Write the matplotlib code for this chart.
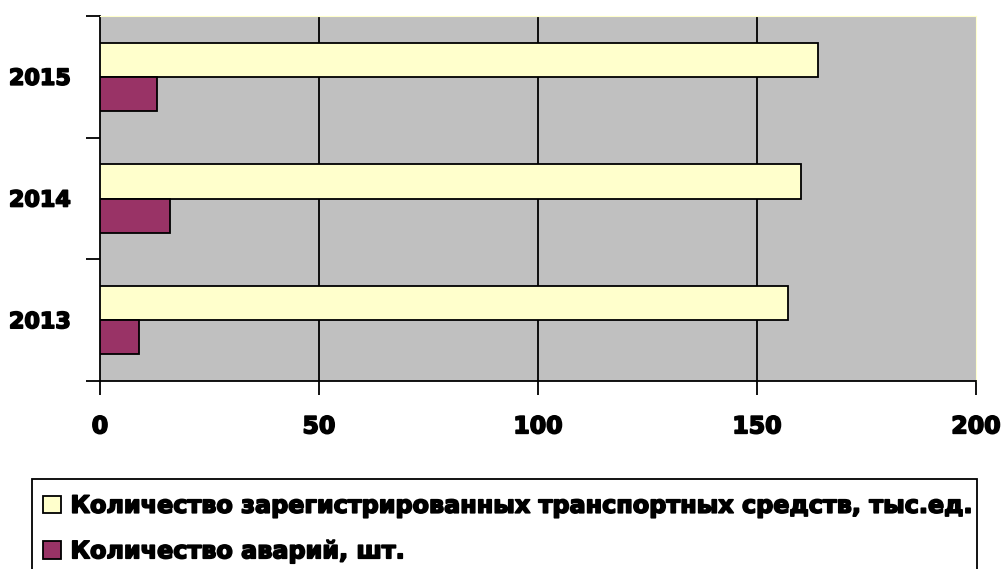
import matplotlib
matplotlib.use("Agg")
import matplotlib.pyplot as plt
import matplotlib.patheffects as pe
from matplotlib.patches import Rectangle
import numpy as np

# ---------------- DATA ----------------
years = ["2013", "2014", "2015"]
vehicles = [157, 160, 164]      # тыс.ед.
accidents = [9, 16, 13]         # шт.
xticks = [0, 50, 100, 150, 200]
label_vehicles = "Количество зарегистрированных транспортных средств, тыс.ед."
label_accidents = "Количество аварий, шт."
# --------------------------------------

W, H = 1002, 569
fig = plt.figure(figsize=(W / 100, H / 100), dpi=100)
ax = fig.add_axes([100 / W, 1 - 381 / H, 876 / W, 365 / H])
ax.set_facecolor("#C0C0C0")

heavy = [pe.withStroke(linewidth=1.2, foreground="black")]

y = np.arange(len(years))
bh = 0.28
ax.barh(y + bh / 2, vehicles, height=bh, color="#FFFFCC", edgecolor="black",
        linewidth=1.3, label=label_vehicles, zorder=3)
ax.barh(y - bh / 2, accidents, height=bh, color="#993366", edgecolor="black",
        linewidth=1.3, label=label_accidents, zorder=3)

ax.set_xlim(0, 200)
ax.set_ylim(-0.5, 2.5)
ax.set_xticks(xticks)
ax.set_yticks(y)
ax.set_yticklabels(years)
ax.set_yticks(np.arange(-0.5, 3.0, 1.0), minor=True)
ax.tick_params(axis="y", which="major", length=0, pad=21)
ax.tick_params(axis="y", which="minor", length=10, width=1.3, direction="out")
ax.tick_params(axis="x", length=10, width=1.3, direction="out", pad=14)
for lab in ax.get_xticklabels():
    lab.set_fontsize(17)
    lab.set_fontweight("bold")
    lab.set_path_effects(heavy)
for lab in ax.get_yticklabels():
    lab.set_fontsize(16)
    lab.set_fontweight("bold")
    lab.set_path_effects(heavy)

for x in xticks[1:-1]:
    ax.axvline(x, color="black", linewidth=1.3, zorder=1)

ax.spines["left"].set_linewidth(1.3)
ax.spines["bottom"].set_linewidth(1.3)
ax.spines["top"].set_color("#FFFFCC")
ax.spines["right"].set_color("#FFFFCC")

# legend frame runs off the bottom edge of the picture
fig.patches.append(Rectangle((32 / W, -0.05), 945 / W, 0.05 + 1 - 479 / H,
                             transform=fig.transFigure, facecolor="white",
                             edgecolor="black", linewidth=1.3))
leg = fig.legend(loc="upper left",
                 bbox_to_anchor=(38 / W, 1 - 489 / H),
                 ncol=1, prop={"weight": "bold", "size": 17.2},
                 handlelength=0.76, handleheight=0.76, handletextpad=0.4,
                 labelspacing=0.9, borderpad=0.2, borderaxespad=0,
                 frameon=False)
for t in leg.get_texts():
    t.set_path_effects(heavy)

fig.savefig("out.png", dpi=100)
